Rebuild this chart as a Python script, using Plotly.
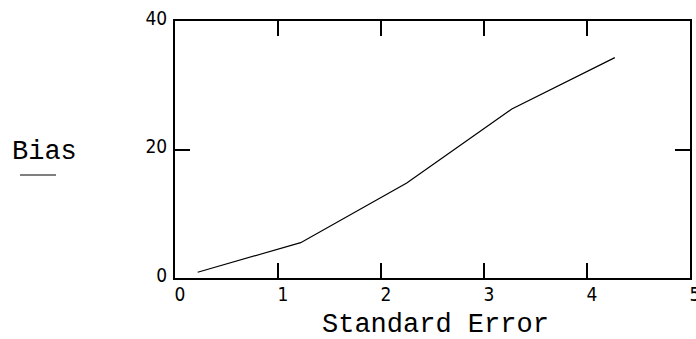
import plotly.graph_objects as go

# Data
std_error = [0.22, 1.22, 2.25, 3.27, 4.27]
bias = [0.9, 5.5, 14.8, 26.3, 34.3]
x_ticks = [0, 1, 2, 3, 4, 5]
y_ticks = [0, 20, 40]

tick_font = dict(family="DejaVu Sans Condensed, Liberation Sans Narrow, Arial Narrow, sans-serif",
                 size=19, color="black")
title_font = dict(family="Liberation Mono, Courier New, monospace", size=27, color="black")

W, H = 696, 339
# plot area in window pixels
pl, pr, pt, pb = 175, 690, 21, 278

fig = go.Figure()
fig.add_trace(go.Scatter(x=std_error, y=bias, mode="lines",
                         line=dict(color="black", width=1.2), showlegend=False))

axis_common = dict(showgrid=False, zeroline=False, showline=True, linecolor="black",
                   linewidth=2, mirror="ticks", ticks="inside", ticklen=15,
                   tickwidth=2, tickcolor="black", tickfont=tick_font, automargin=False,
                   ticklabeloverflow="allow")


def px_x(px):
    return (px - pl) / (pr - pl)


def px_y(py):
    return (pb - py) / (pb - pt)


fig.update_layout(
    width=W, height=H,
    margin=dict(l=pl, r=W - pr, t=pt, b=H - pb),
    paper_bgcolor="white", plot_bgcolor="white",
    xaxis=dict(range=[0, 5], tickvals=x_ticks, ticktext=[str(v) for v in x_ticks],
               ticklabelshift=5, ticklabelstandoff=-2, **axis_common),
    yaxis=dict(range=[0, 40], tickvals=y_ticks, ticktext=[str(v) for v in y_ticks],
               ticklabelstandoff=2, ticklabelshift=-3, **axis_common),
    annotations=[
        dict(text="Bias", x=px_x(44), y=px_y(152), xref="paper", yref="paper",
             showarrow=False, font=title_font, xanchor="center", yanchor="middle"),
        dict(text="Standard Error", x=px_x(435), y=px_y(325), xref="paper", yref="paper",
             showarrow=False, font=title_font, xanchor="center", yanchor="middle"),
    ],
    shapes=[dict(type="line", xref="paper", yref="paper",
                 x0=px_x(20), x1=px_x(56), y0=px_y(175), y1=px_y(175),
                 line=dict(color="black", width=1))],
)

fig.write_html(
    "out.html",
    config={"displayModeBar": False},
    post_script="document.body.style.margin='0';document.body.style.overflow='hidden';",
)
